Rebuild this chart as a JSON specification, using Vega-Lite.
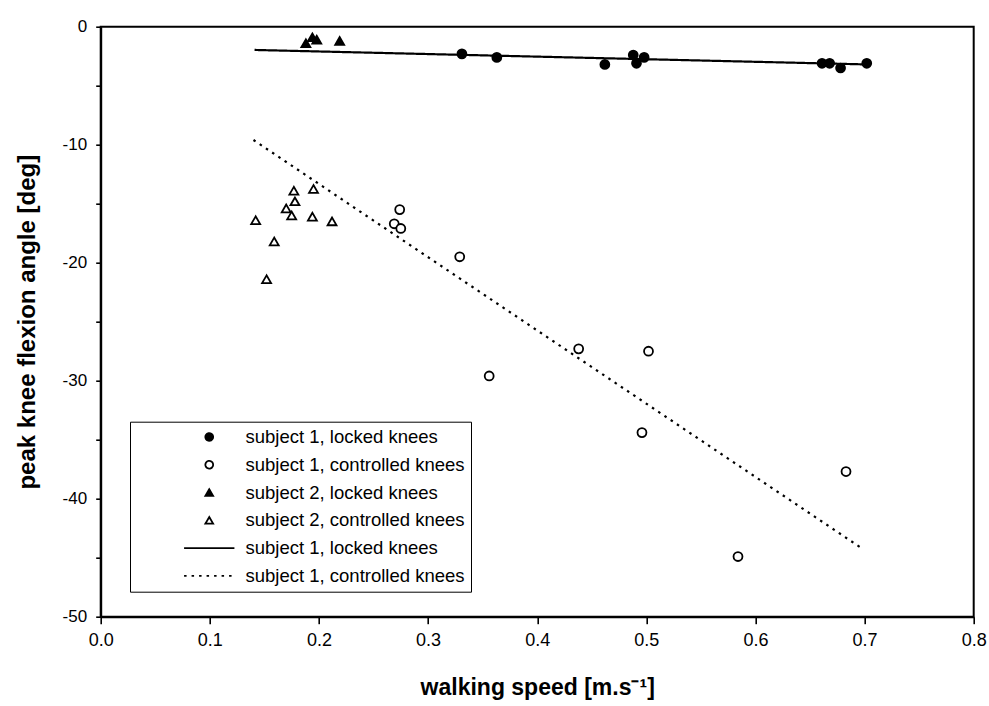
{
  "$schema": "https://vega.github.io/schema/vega-lite/v6.json",
  "width": 873,
  "height": 590,
  "autosize": {"type": "none"},
  "padding": {"left": 100.7, "top": 26.7, "right": 15.3, "bottom": 89.3},
  "background": "white",
  "config": {
    "view": {"stroke": "black", "strokeWidth": 2},
    "font": "Liberation Sans",
    "legend": {
      "orient": "none",
      "legendX": 29.3,
      "legendY": 395,
      "strokeColor": "black",
      "fillColor": "white",
      "padding": 6,
      "labelFont": "Liberation Sans",
      "labelFontSize": 18.5,
      "labelColor": "black",
      "labelLimit": 400,
      "symbolSize": 60,
      "symbolOffset": 64,
      "labelOffset": 27,
      "rowPadding": 8.8,
      "symbolStrokeColor": "black",
      "symbolStrokeWidth": 1.8,
      "title": null
    }
  },
  "datasets": {
    "pts": [
      {"speed": 0.331, "angle": -2.3, "key": "a"},
      {"speed": 0.363, "angle": -2.6, "key": "a"},
      {"speed": 0.462, "angle": -3.2, "key": "a"},
      {"speed": 0.488, "angle": -2.4, "key": "a"},
      {"speed": 0.491, "angle": -3.1, "key": "a"},
      {"speed": 0.498, "angle": -2.6, "key": "a"},
      {"speed": 0.661, "angle": -3.1, "key": "a"},
      {"speed": 0.668, "angle": -3.1, "key": "a"},
      {"speed": 0.678, "angle": -3.5, "key": "a"},
      {"speed": 0.702, "angle": -3.1, "key": "a"},
      {"speed": 0.269, "angle": -16.7, "key": "b"},
      {"speed": 0.274, "angle": -15.5, "key": "b"},
      {"speed": 0.275, "angle": -17.1, "key": "b"},
      {"speed": 0.329, "angle": -19.5, "key": "b"},
      {"speed": 0.356, "angle": -29.6, "key": "b"},
      {"speed": 0.438, "angle": -27.3, "key": "b"},
      {"speed": 0.496, "angle": -34.4, "key": "b"},
      {"speed": 0.502, "angle": -27.5, "key": "b"},
      {"speed": 0.584, "angle": -44.9, "key": "b"},
      {"speed": 0.683, "angle": -37.7, "key": "b"},
      {"speed": 0.188, "angle": -1.4, "key": "c"},
      {"speed": 0.194, "angle": -0.9, "key": "c"},
      {"speed": 0.198, "angle": -1.1, "key": "c"},
      {"speed": 0.219, "angle": -1.2, "key": "c"},
      {"speed": 0.177, "angle": -13.9, "key": "d"},
      {"speed": 0.195, "angle": -13.75, "key": "d"},
      {"speed": 0.178, "angle": -14.8, "key": "d"},
      {"speed": 0.170, "angle": -15.4, "key": "d"},
      {"speed": 0.175, "angle": -16.0, "key": "d"},
      {"speed": 0.194, "angle": -16.1, "key": "d"},
      {"speed": 0.142, "angle": -16.4, "key": "d"},
      {"speed": 0.212, "angle": -16.5, "key": "d"},
      {"speed": 0.159, "angle": -18.2, "key": "d"},
      {"speed": 0.152, "angle": -21.4, "key": "d"}
    ],
    "fits": [
      {"speed": 0.141, "angle": -1.97, "key": "e"},
      {"speed": 0.703, "angle": -3.2, "key": "e"},
      {"speed": 0.14, "angle": -9.6, "key": "f"},
      {"speed": 0.699, "angle": -44.3, "key": "f"}
    ]
  },
  "encoding": {
    "x": {
      "field": "speed",
      "type": "quantitative",
      "scale": {"domain": [0, 0.8], "nice": false, "zero": false},
      "axis": {
        "title": "walking speed [m.s⁻¹]",
        "values": [0, 0.1, 0.2, 0.3, 0.4, 0.5, 0.6, 0.7, 0.8],
        "format": ".1f",
        "grid": false,
        "labelFlush": false,
        "labelFont": "Liberation Sans",
        "labelFontSize": 18,
        "labelColor": "black",
        "labelPadding": 8,
        "tickSize": 7,
        "tickColor": "black",
        "tickWidth": 1.6,
        "domainColor": "black",
        "domainWidth": 2,
        "titleFont": "Liberation Sans",
        "titleFontSize": 23,
        "titleFontWeight": "bold",
        "titleColor": "black",
        "titleX": 436.5,
        "titleY": 71,
        "titleBaseline": "middle",
        "titleAlign": "center"
      }
    },
    "y": {
      "field": "angle",
      "type": "quantitative",
      "scale": {"domain": [-50, 0], "nice": false, "zero": false},
      "axis": {
        "title": "peak knee flexion angle [deg]",
        "values": [0, -5, -10, -15, -20, -25, -30, -35, -40, -45, -50],
        "labelExpr": "datum.value % 10 == 0 ? (datum.value == 0 ? '0' : '-' + abs(datum.value)) : ''",
        "grid": false,
        "labelFlush": false,
        "labelFont": "Liberation Sans",
        "labelFontSize": 17,
        "labelColor": "black",
        "labelPadding": 9,
        "tickSize": 5,
        "tickColor": "black",
        "tickWidth": 1.6,
        "domainColor": "black",
        "domainWidth": 2,
        "titleFont": "Liberation Sans",
        "titleFontSize": 24,
        "titleFontWeight": "bold",
        "titleColor": "black",
        "titleAngle": 270,
        "titleX": -73,
        "titleY": 295,
        "titleBaseline": "middle",
        "titleAlign": "center",
        "encode": {"ticks": {"x": {"value": -5}, "x2": {"value": 5}}}
      }
    },
    "stroke": {
      "field": "key",
      "type": "nominal",
      "scale": {"domain": ["a", "b", "c", "d", "e", "f"], "range": ["black", "black", "black", "black", "black", "black"]},
      "legend": {
        "labelExpr": "datum.value == 'a' || datum.value == 'e' ? 'subject 1, locked knees' : datum.value == 'b' || datum.value == 'f' ? 'subject 1, controlled knees' : datum.value == 'c' ? 'subject 2, locked knees' : 'subject 2, controlled knees'",
        "encode": {"legend": {"strokeWidth": {"value": 2}}}
      }
    }
  },
  "layer": [
    {
      "data": {"name": "fits"},
      "mark": {"type": "line", "strokeWidth": 2.2},
      "encoding": {
        "detail": {"field": "key", "type": "nominal"},
        "strokeDash": {
          "field": "key",
          "type": "nominal",
          "scale": {"domain": ["a", "b", "c", "d", "e", "f"], "range": [[1, 0], [1, 0], [1, 0], [1, 0], [1, 0], [2.5, 5]]},
          "legend": {
            "labelExpr": "datum.value == 'a' || datum.value == 'e' ? 'subject 1, locked knees' : datum.value == 'b' || datum.value == 'f' ? 'subject 1, controlled knees' : datum.value == 'c' ? 'subject 2, locked knees' : 'subject 2, controlled knees'"
          }
        }
      }
    },
    {
      "data": {"name": "pts"},
      "mark": {"type": "point", "filled": false, "strokeWidth": 1.8, "opacity": 1, "size": 80},
      "encoding": {
        "fill": {
          "field": "key",
          "type": "nominal",
          "scale": {"domain": ["a", "b", "c", "d", "e", "f"], "range": ["black", "white", "black", "white", "transparent", "transparent"]},
          "legend": {
            "labelExpr": "datum.value == 'a' || datum.value == 'e' ? 'subject 1, locked knees' : datum.value == 'b' || datum.value == 'f' ? 'subject 1, controlled knees' : datum.value == 'c' ? 'subject 2, locked knees' : 'subject 2, controlled knees'"
          }
        },
        "shape": {
          "field": "key",
          "type": "nominal",
          "scale": {"domain": ["a", "b", "c", "d", "e", "f"], "range": ["circle", "circle", "triangle-up", "triangle-up", "M-6.5,0H6.5", "M-6.5,0H6.5"]},
          "legend": {
            "labelExpr": "datum.value == 'a' || datum.value == 'e' ? 'subject 1, locked knees' : datum.value == 'b' || datum.value == 'f' ? 'subject 1, controlled knees' : datum.value == 'c' ? 'subject 2, locked knees' : 'subject 2, controlled knees'"
          }
        }
      }
    }
  ]
}
